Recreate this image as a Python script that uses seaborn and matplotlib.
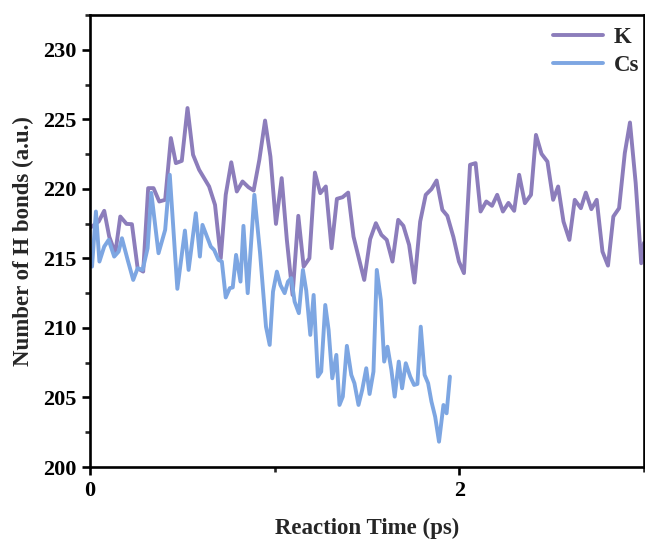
import matplotlib
matplotlib.use("Agg")
import matplotlib.pyplot as plt
import seaborn as sns
import pandas as pd
from matplotlib.ticker import MultipleLocator

# ---- data ----
k_time = [0.000, 0.047, 0.077, 0.104, 0.137, 0.164, 0.198, 0.227, 0.258, 0.288,
          0.315, 0.344, 0.375, 0.407, 0.438, 0.465, 0.497, 0.528, 0.558, 0.591,
          0.618, 0.645, 0.677, 0.708, 0.735, 0.765, 0.795, 0.826, 0.858, 0.886,
          0.917, 0.948, 0.977, 1.007, 1.038, 1.066, 1.097, 1.128, 1.157, 1.188,
          1.218, 1.247, 1.277, 1.308, 1.337, 1.368, 1.398, 1.427, 1.458, 1.485,
          1.517, 1.548, 1.578, 1.607, 1.638, 1.669, 1.697, 1.728, 1.757, 1.788,
          1.818, 1.849, 1.877, 1.908, 1.935, 1.968, 1.998, 2.025, 2.058, 2.088,
          2.115, 2.146, 2.177, 2.205, 2.236, 2.266, 2.297, 2.324, 2.355, 2.388,
          2.415, 2.445, 2.477, 2.508, 2.535, 2.564, 2.596, 2.625, 2.658, 2.685,
          2.715, 2.744, 2.775, 2.805, 2.834, 2.865, 2.896, 2.924, 2.955, 2.985,
          3.000]
k_hbonds = [217.19, 217.65, 218.42, 216.57, 215.37, 218.01, 217.48, 217.46, 214.29, 214.05,
            220.05, 220.05, 219.09, 219.21, 223.65, 221.85, 222.01, 225.81, 222.45, 221.37,
            220.77, 220.17, 218.85, 215.01, 219.57, 221.91, 219.81, 220.53, 220.12, 219.88,
            222.09, 224.91, 222.32, 217.48, 220.77, 216.33, 212.37, 218.06, 214.41, 215.01,
            221.17, 219.69, 220.17, 215.73, 219.28, 219.40, 219.73, 216.57, 214.89, 213.45,
            216.38, 217.53, 216.69, 216.33, 214.77, 217.77, 217.34, 215.97, 213.26, 217.65,
            219.57, 219.98, 220.60, 218.49, 218.06, 216.53, 214.77, 213.94, 221.73, 221.85,
            218.37, 219.09, 218.78, 219.57, 218.37, 218.99, 218.42, 221.01, 218.97, 219.57,
            223.88, 222.52, 221.96, 219.21, 220.17, 217.65, 216.33, 219.21, 218.61, 219.73,
            218.54, 219.21, 215.49, 214.48, 218.01, 218.61, 222.57, 224.77, 220.41, 214.65,
            216.12]

cs_time = [0.011, 0.032, 0.051, 0.077, 0.101, 0.131, 0.155, 0.173, 0.204, 0.234,
           0.258, 0.285, 0.312, 0.332, 0.371, 0.407, 0.432, 0.473, 0.514, 0.534,
           0.573, 0.595, 0.609, 0.654, 0.672, 0.696, 0.714, 0.735, 0.757, 0.773,
           0.791, 0.815, 0.831, 0.854, 0.890, 0.921, 0.953, 0.973, 0.991, 1.012,
           1.031, 1.054, 1.072, 1.090, 1.108, 1.131, 1.153, 1.171, 1.193, 1.211,
           1.234, 1.252, 1.274, 1.292, 1.312, 1.334, 1.351, 1.369, 1.391, 1.415,
           1.432, 1.454, 1.474, 1.496, 1.514, 1.535, 1.553, 1.575, 1.593, 1.611,
           1.632, 1.650, 1.672, 1.690, 1.710, 1.734, 1.755, 1.773, 1.791, 1.812,
           1.831, 1.849, 1.869, 1.890, 1.914, 1.931, 1.949]
cs_hbonds = [214.41, 218.37, 214.77, 215.85, 216.33, 215.13, 215.49, 216.45, 214.89, 213.45,
             214.29, 214.17, 215.73, 219.71, 215.37, 217.05, 221.01, 212.81, 217.00, 214.17,
             218.25, 215.13, 217.41, 215.85, 215.61, 214.89, 214.77, 212.19, 212.86, 212.91,
             215.25, 213.33, 217.34, 212.50, 219.57, 215.37, 210.09, 208.78, 212.61, 214.05,
             213.09, 212.50, 213.33, 213.58, 211.89, 211.06, 214.17, 212.68, 209.50, 212.37,
             206.50, 206.86, 211.65, 209.86, 206.38, 208.06, 204.46, 205.06, 208.71, 206.62,
             206.02, 204.46, 205.54, 207.10, 205.25, 206.86, 214.17, 212.01, 207.58, 208.65,
             206.98, 205.06, 207.58, 205.66, 207.46, 206.50, 205.90, 205.97, 210.09, 206.62,
             206.02, 204.70, 203.62, 201.82, 204.46, 203.86, 206.50]

x_ticks = [0, 2]
y_ticks = [200, 205, 210, 215, 220, 225, 230]

colors = {"K": "#8C7DBB", "Cs": "#7DA6E2"}

df_k = pd.DataFrame({"time": k_time, "hb": k_hbonds, "ion": "K"})
df_cs = pd.DataFrame({"time": cs_time, "hb": cs_hbonds, "ion": "Cs"})

# ---- style ----
sns.set_style("ticks")
plt.rcParams["font.family"] = ["Liberation Serif", "DejaVu Serif"]
plt.rcParams["font.weight"] = "bold"

fig = plt.figure(figsize=(6.45, 5.40), dpi=100)
ax = fig.add_axes([90 / 645, 1 - 467 / 540, 554 / 645, (467 - 15) / 540])

sns.lineplot(data=df_k, x="time", y="hb", color=colors["K"], linewidth=2.8,
             label="K", estimator=None, sort=False, ax=ax)
sns.lineplot(data=df_cs, x="time", y="hb", color=colors["Cs"], linewidth=2.8,
             label="Cs", estimator=None, sort=False, ax=ax)

ax.set_xlim(0, 3)
ax.set_ylim(200, 232.5)
ax.set_xticks(x_ticks)
ax.set_xticklabels([str(v) for v in x_ticks])
ax.set_yticks(y_ticks)
ax.set_yticklabels([str(v) for v in y_ticks])
ax.xaxis.set_minor_locator(MultipleLocator(1))
ax.yaxis.set_minor_locator(MultipleLocator(2.5))

for s in ax.spines.values():
    s.set_linewidth(1.9)
    s.set_color("black")
    s.set_visible(True)

ax.tick_params(axis="both", which="major", direction="out", length=6, width=1.9,
               labelsize=16, pad=4, colors="black")
ax.tick_params(axis="both", which="minor", direction="out", length=3.5, width=1.9)
for lbl in ax.get_xticklabels() + ax.get_yticklabels():
    lbl.set_fontweight("bold")

ax.set_xlabel("Reaction Time (ps)", fontsize=16.5, fontweight="bold", labelpad=12)
ax.set_ylabel("Number of H bonds (a.u.)", fontsize=16.5, fontweight="bold", labelpad=6)

leg = ax.legend(loc="upper right", bbox_to_anchor=(1.02, 1.008), frameon=False,
                handlelength=2.2, handletextpad=0.45, labelspacing=0.3,
                borderaxespad=0.3, prop={"weight": "bold", "size": 16.5})

fig.savefig("out.png", dpi=100)
